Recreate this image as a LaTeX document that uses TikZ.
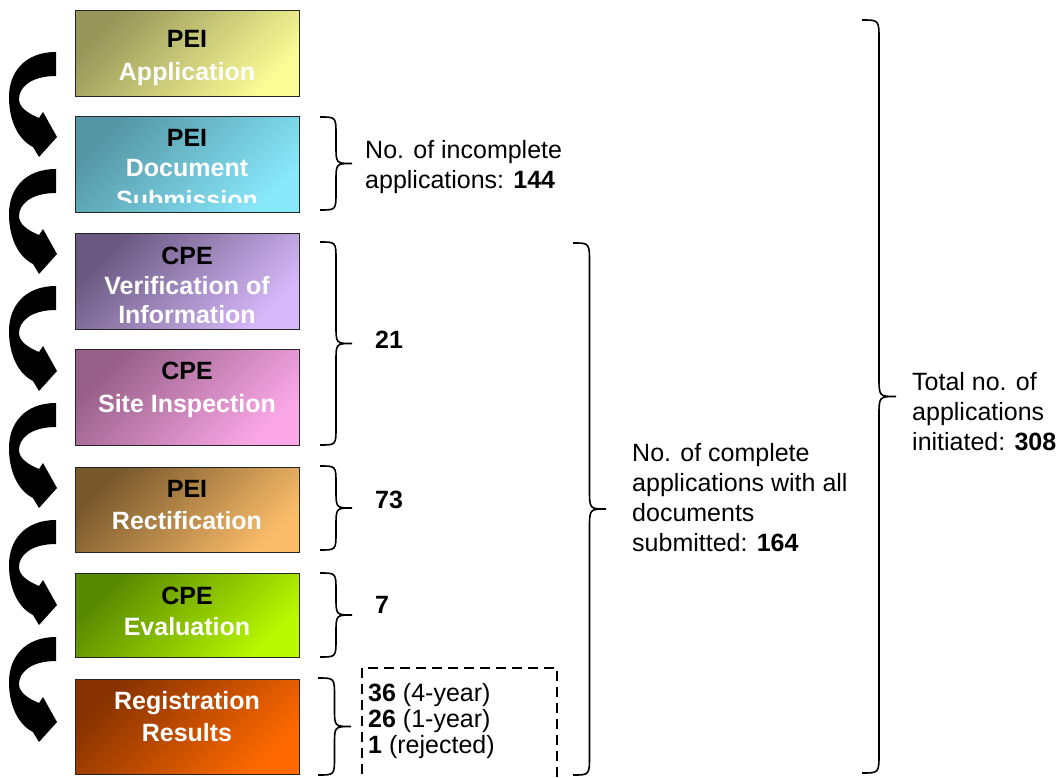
\documentclass[tikz,border=0pt]{standalone}
\usepackage{fontspec}
\setmainfont{Liberation Sans}
\definecolor{c1a}{RGB}{150,150,90}\definecolor{c1b}{RGB}{252,252,150}
\definecolor{c2a}{RGB}{85,150,165}\definecolor{c2b}{RGB}{135,232,250}
\definecolor{c3a}{RGB}{105,88,128}\definecolor{c3b}{RGB}{215,185,250}
\definecolor{c4a}{RGB}{150,95,135}\definecolor{c4b}{RGB}{252,168,232}
\definecolor{c5a}{RGB}{120,88,45}\definecolor{c5b}{RGB}{250,188,105}
\definecolor{c6a}{RGB}{88,135,0}\definecolor{c6b}{RGB}{185,250,0}
\definecolor{c7a}{RGB}{135,50,0}\definecolor{c7b}{RGB}{255,105,0}
\newcommand\mybrace[5]{%
 \draw[brc] (#1,#2) .. controls ({#1+#4/2},#2) .. ({#1+#4/2},{#2+#5})
   -- ({#1+#4/2},{(#2+#3)/2-#5}) .. controls ({#1+#4/2},{(#2+#3)/2}) .. ({#1+#4},{(#2+#3)/2})
   .. controls ({#1+#4/2},{(#2+#3)/2}) .. ({#1+#4/2},{(#2+#3)/2+#5})
   -- ({#1+#4/2},{#3-#5}) .. controls ({#1+#4/2},#3) .. (#1,#3);}
\begin{document}
\begin{tikzpicture}[x=1pt,y=-1pt,
  box/.style={draw=black!85, line width=1.4pt, anchor=north west, minimum width=224pt, inner sep=0pt},
  sh/.style 2 args={top color=#1, bottom color=#2, shading angle=45},
  hd/.style={font=\bfseries\fontsize{25}{30}\selectfont, text=black, anchor=base, inner sep=0pt},
  wt/.style={font=\bfseries\fontsize{25}{30}\selectfont, text=white, anchor=base, inner sep=0pt},
  lbl/.style={font=\fontsize{25}{30}\selectfont, align=left, anchor=west, inner sep=0pt},
  brc/.style={line width=1.6pt, black},
  arr/.style={fill=black}
]
\useasboundingbox (0,0) rectangle (1057,778);

% boxes
\node[box, minimum height=86pt, sh={c1a}{c1b}] (b1) at (75,10) {};
\node[box, minimum height=96pt, sh={c2a}{c2b}] (b2) at (75,116) {};
\node[box, minimum height=96pt, sh={c3a}{c3b}] (b3) at (75,233) {};
\node[box, minimum height=96pt, sh={c4a}{c4b}] (b4) at (75,349) {};
\node[box, minimum height=85pt, sh={c5a}{c5b}] (b5) at (75,467) {};
\node[box, minimum height=84pt, sh={c6a}{c6b}] (b6) at (75,573) {};
\node[box, minimum height=95pt, sh={c7a}{c7b}] (b7) at (75,679) {};

% box texts
\node[hd] (t1a) at (187,48) {PEI};
\node[wt] (t1b) at (187,81) {Application};
\begin{scope}
\clip (75,116) rectangle (299,203);
\node[hd] (t2a) at (187,147) {PEI};
\node[wt] (t2b) at (187,177) {Document};
\node[wt] (t2c) at (187,208) {Submission};
\end{scope}
\begin{scope}
\clip (75,233) rectangle (299,322);
\node[hd] (t3a) at (187,264) {CPE};
\node[wt] (t3b) at (187,294) {Verification of};
\node[wt] (t3c) at (187,323) {Information};
\end{scope}
\node[hd] (t4a) at (187,379) {CPE};
\node[wt] (t4b) at (187,412) {Site Inspection};
\node[hd] (t5a) at (187,497) {PEI};
\node[wt] (t5b) at (187,529) {Rectification};
\node[hd] (t6a) at (187,604) {CPE};
\node[wt] (t6b) at (187,635) {Evaluation};
\node[wt] (t7a) at (187,709) {Registration};
\node[wt] (t7b) at (187,741) {Results};

% curved arrows
\foreach \t in {52,169,286,403,520,637}{
 \fill[arr, shift={(0,\t)}] (56,0) .. controls (25,0) and (9,20) .. (9,45)
   .. controls (9,70) and (19,88) .. (33,95) -- (39,105) -- (57,85) -- (43,60) -- (39,66)
   .. controls (27,61) and (19,55) .. (19,47)
   .. controls (19,36) and (30,24) .. (56,24) -- cycle;
}

% braces
\mybrace{320}{117}{210}{32}{18}
\mybrace{320}{242}{445}{32}{18}
\mybrace{320}{466}{550}{32}{18}
\mybrace{320}{573}{657}{32}{18}
\mybrace{318}{678}{775}{33}{18}
\mybrace{573}{243}{775}{33}{20}
\mybrace{862}{20}{773}{34}{20}

% labels
\node[lbl] (l1) at (365,167) {No. of incomplete\\applications: \textbf{144}};
\node[lbl, font=\bfseries\fontsize{25}{30}\selectfont] (l2) at (375,340) {21};
\node[lbl, font=\bfseries\fontsize{25}{30}\selectfont] (l3) at (375,500) {73};
\node[lbl, font=\bfseries\fontsize{25}{30}\selectfont] (l4) at (375,605) {7};
\node[lbl, font=\fontsize{25}{26}\selectfont] (l5) at (368,721) {\textbf{36} (4-year)\\\textbf{26} (1-year)\\\textbf{1} (rejected)};
\node[lbl] (l6) at (632,498) {No. of complete\\applications with all\\documents\\submitted: \textbf{164}};
\node[lbl] (l7) at (912,412) {Total no. of\\applications\\initiated: \textbf{308}};

% dashed box
\draw[line width=2pt, dash pattern=on 10pt off 6pt] (362,790) -- (362,668) -- (557,668) -- (557,790);
\end{tikzpicture}
\end{document}
